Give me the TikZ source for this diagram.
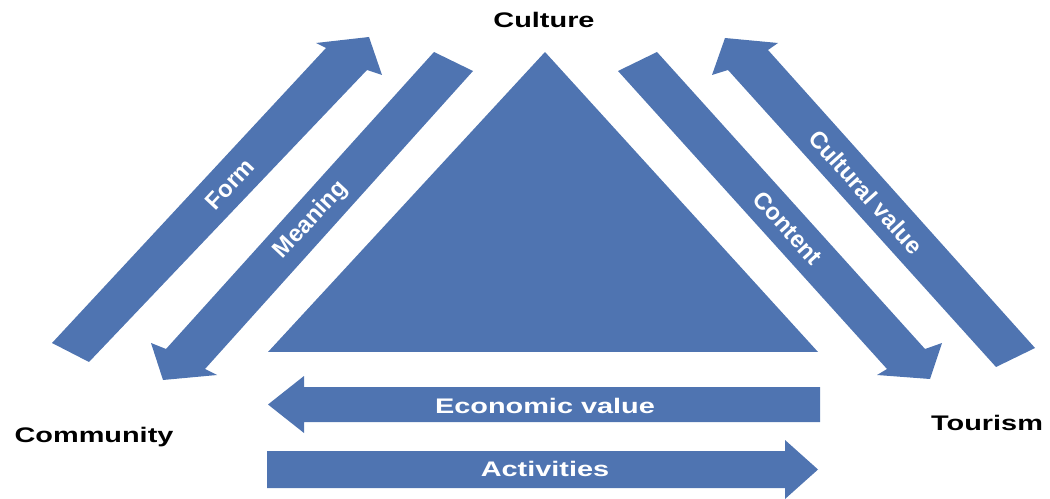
\documentclass[tikz,border=0pt]{standalone}
\usepackage{fontspec}
\setmainfont{Liberation Sans}
\definecolor{arrowblue}{RGB}{79,116,177}

\begin{document}
\begin{tikzpicture}[x=0.02cm, y=-0.02cm,
  cornertext/.style={font=\fontsize{12}{14}\selectfont\bfseries, xscale=1.37, anchor=base, inner sep=0pt},
  bartext/.style={cornertext, text=white},
  slanttext/.style={font=\fontsize{13.5}{16}\selectfont\bfseries, text=white, inner sep=0pt}]

  \useasboundingbox (0,0) rectangle (1050,499);

  % Big triangle in the middle
  \fill[arrowblue] (268,352) -- (545,52) -- (818,352) -- cycle;

  % Left side: community -> culture and back
  \fill[arrowblue]
    (52,343) -- (326,48) -- (316,43) -- (369,37)
    -- (382,75) -- (367,70) -- (89,362) -- cycle;
  \fill[arrowblue]
    (434,52) -- (473,71) -- (205,369) -- (217,375)
    -- (163,380) -- (151,343) -- (166,349) -- cycle;

  % Right side: culture -> tourism and back
  \fill[arrowblue]
    (657,52) -- (618,71) -- (887,369) -- (877,375)
    -- (930,379) -- (942,343) -- (925,349) -- cycle;
  \fill[arrowblue]
    (1035,348) -- (996,367) -- (728,70) -- (712,75)
    -- (725,38) -- (778,43) -- (768,50) -- cycle;

  % Bottom: tourism <-> community
  \fill[arrowblue]
    (820,387) -- (304,387) -- (304,376) -- (268,404.5)
    -- (304,433) -- (304,422) -- (820,422) -- cycle;
  \fill[arrowblue]
    (267,451) -- (785,451) -- (785,440) -- (818,469.5)
    -- (785,499) -- (785,488) -- (267,488) -- cycle;

  % Corner labels
  \node[cornertext] (culture) at (544,28) {Culture};
  \node[cornertext] (community) at (94,442) {Community};
  \node[cornertext] (tourism) at (987,430) {Tourism};

  % Text on the arrows
  \node[slanttext, rotate=47] (form) at (230,184) {Form};
  \node[slanttext, rotate=47] (meaning) at (311,220) {Meaning};
  \node[slanttext, rotate=-48] (content) at (788,228) {Content};
  \node[slanttext, rotate=-48] (culturalvalue) at (866,192) {Cultural value};
  \node[bartext] (economic) at (545,413) {Economic value};
  \node[bartext] (activities) at (545,476) {Activities};

\end{tikzpicture}
\end{document}
